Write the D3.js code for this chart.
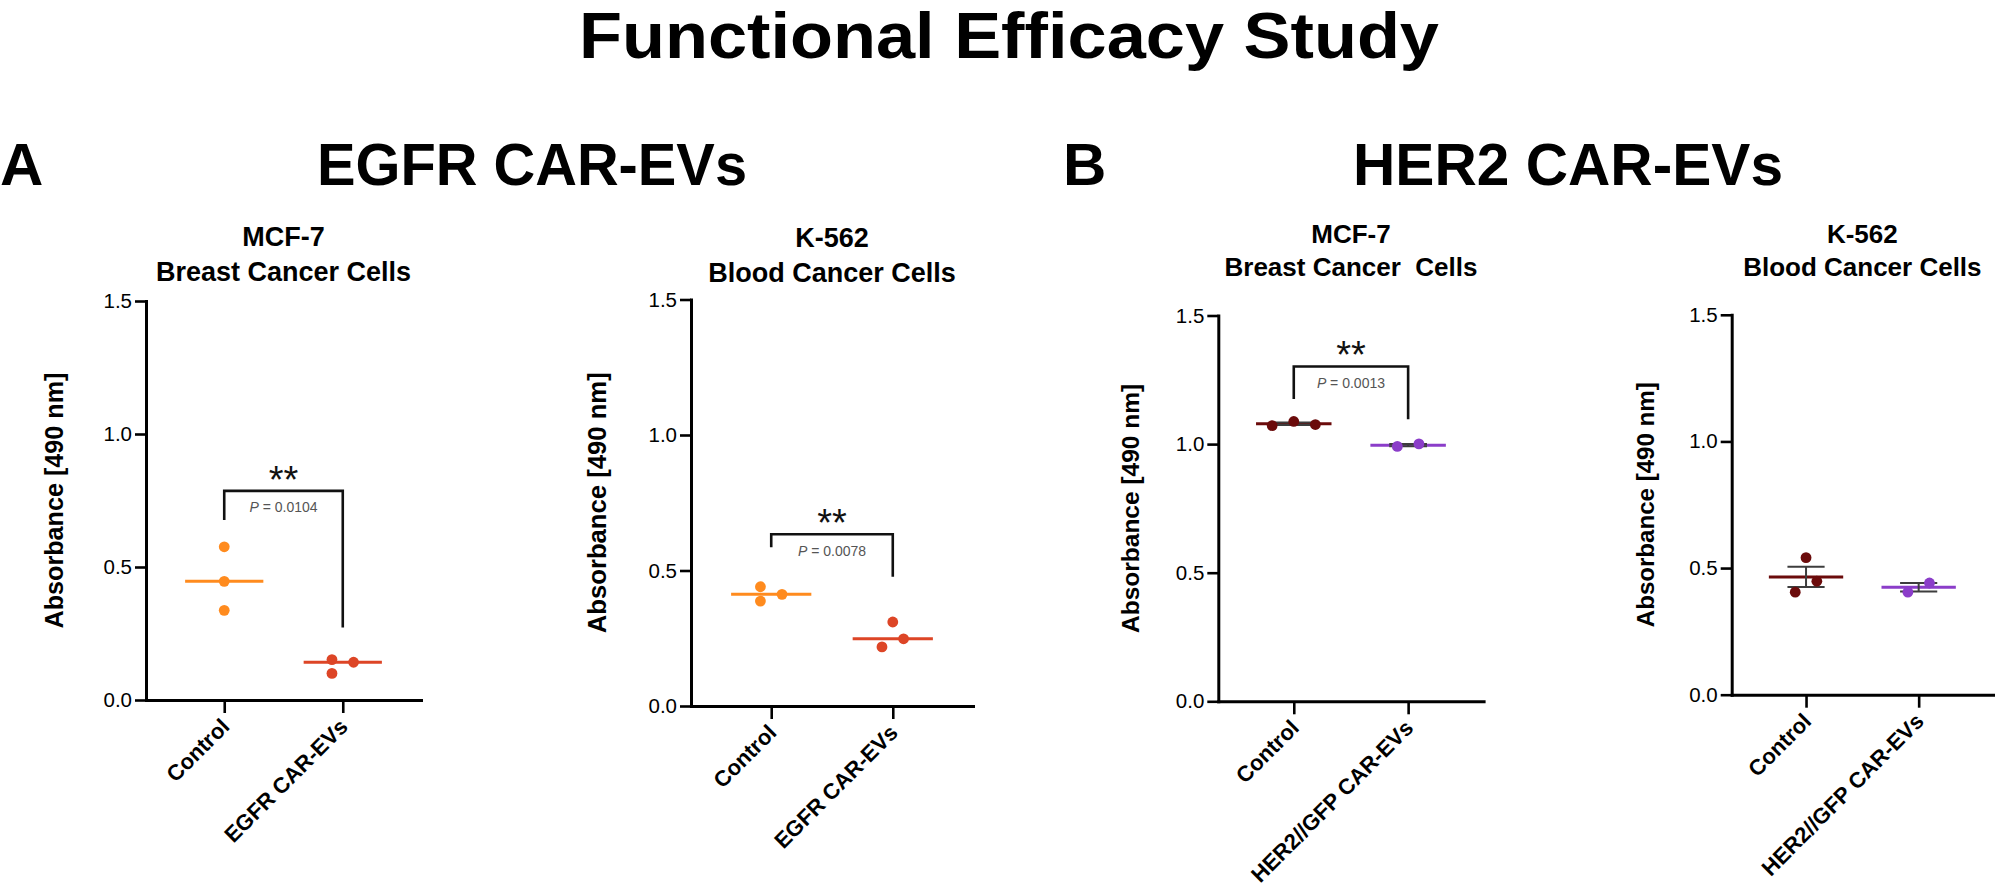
<!DOCTYPE html>
<html>
<head>
<meta charset="utf-8">
<script src="https://cdn.jsdelivr.net/npm/d3@7"></script>
<style>
  body { margin: 0; background: #ffffff; }
  svg { display: block; font-family: "Liberation Sans", Arial, Helvetica, sans-serif; }
</style>
</head>
<body>
<svg id="chart" width="2000" height="896"></svg>
<script>
// ---------------- DATA ----------------
const figureTitle = "Functional Efficacy Study";
const sectionLetters = ["A", "B"];
const sectionTitles = ["EGFR CAR-EVs", "HER2 CAR-EVs"];
const panelTitleLine1 = ["MCF-7", "K-562", "MCF-7", "K-562"];
const panelTitleLine2 = ["Breast Cancer Cells", "Blood Cancer Cells", "Breast Cancer  Cells", "Blood Cancer Cells"];
const egfrCategories = ["Control", "EGFR CAR-EVs"];
const her2Categories = ["Control", "HER2//GFP CAR-EVs"];
const yTickValues = [0.0, 0.5, 1.0, 1.5];
const yAxisLabel = "Absorbance [490 nm]";

// replicate values (absorbance at 490 nm)
const egfrMcf7Control = [0.576, 0.446, 0.337];
const egfrMcf7Treated = [0.152, 0.142, 0.100];
const egfrK562Control = [0.440, 0.387, 0.412];
const egfrK562Treated = [0.310, 0.248, 0.218];
const her2Mcf7Control = [1.072, 1.088, 1.076];
const her2Mcf7Treated = [0.991, 1.001];
const her2K562Control = [0.541, 0.448, 0.405];
const her2K562Treated = [0.405, 0.441];

// group means and SEM as plotted
const groupMeans = [[0.446, 0.142], [0.412, 0.248], [1.079, 0.996], [0.465, 0.424]];
const groupSEM = [null, null, [0.005, 0.004], [0.040, 0.017]];

// scatter-dot column slots
const swarmSlots = [
  [[0, 0, 0], [-1, 1, -1]],
  [[-1, -1, 1], [0, 1, -1]],
  [[-2, 0, 2], [-1, 1]],
  [[0, 1, -1], [-1, 1]]
];

// significance annotations
const significance = ["**", "**", "**", null];
const pValueText = ["0.0104", "0.0078", "0.0013", null];
const bracketLevel = [0.786, 0.634, 1.302, null];
const bracketLegEnds = [[0.677, 0.273], [0.586, 0.477], [1.175, 1.097], null];

// ---------------- STYLE / LAYOUT ----------------
const controlColors = ["#FF8B1E", "#FF8B1E", "#6B0B0B", "#6B0B0B"];
const treatedColors = ["#DD4526", "#DD4526", "#8B3DC9", "#8B3DC9"];

const panelData = [
  { cats: egfrCategories, values: [egfrMcf7Control, egfrMcf7Treated] },
  { cats: egfrCategories, values: [egfrK562Control, egfrK562Treated] },
  { cats: her2Categories, values: [her2Mcf7Control, her2Mcf7Treated] },
  { cats: her2Categories, values: [her2K562Control, her2K562Treated] }
];

const layout = [
  { x0: 146,    x1: 421,    yTop: 301,   yBot: 700,   t1: 245.5, t2: 280.5, tSize: 27, labGap: 83,   labLen: 256, labSize: 25 },
  { x0: 691,    x1: 973,    yTop: 299.5, yBot: 706,   t1: 247,   t2: 281.5, tSize: 27, labGap: 85,   labLen: 261, labSize: 25 },
  { x0: 1218.3, x1: 1483.6, yTop: 315.5, yBot: 701.3, t1: 242.7, t2: 276,   tSize: 26, labGap: 79,   labLen: 249, labSize: 24.5 },
  { x0: 1731.7, x1: 1993,   yTop: 314.8, yBot: 694.7, t1: 242.7, t2: 276,   tSize: 26, labGap: 77.7, labLen: 245, labSize: 24 }
];

const svg = d3.select("#chart");

// ---------------- HEADERS ----------------
svg.append("text")
  .attr("x", 1009).attr("y", 58)
  .attr("text-anchor", "middle")
  .attr("font-size", 64).attr("font-weight", "bold")
  .attr("textLength", 860).attr("lengthAdjust", "spacingAndGlyphs")
  .text(figureTitle);

const letterX = [0, 1063];
const sectionCenterX = [532, 1568];
sectionLetters.forEach((L, i) => {
  svg.append("text")
    .attr("x", letterX[i]).attr("y", 184.5)
    .attr("font-size", 60).attr("font-weight", "bold")
    .text(L);
  svg.append("text")
    .attr("x", sectionCenterX[i]).attr("y", 184.5)
    .attr("text-anchor", "middle")
    .attr("font-size", 60).attr("font-weight", "bold")
    .attr("textLength", 430).attr("lengthAdjust", "spacingAndGlyphs")
    .text(sectionTitles[i]);
});

// ---------------- PANELS ----------------
panelData.forEach((pd, i) => {
  const L = layout[i];
  const g = svg.append("g");

  const x = d3.scalePoint().domain(pd.cats).range([L.x0, L.x1]).padding(0.66);
  const y = d3.scaleLinear().domain([0, 1.5]).range([L.yBot, L.yTop]);
  const step = x.step();
  const cx = (L.x0 + L.x1) / 2;

  // titles
  g.append("text").attr("x", cx).attr("y", L.t1).attr("text-anchor", "middle")
    .attr("font-size", L.tSize).attr("font-weight", "bold").text(panelTitleLine1[i]);
  g.append("text").attr("x", cx).attr("y", L.t2).attr("text-anchor", "middle")
    .attr("font-size", L.tSize).attr("font-weight", "bold")
    .style("white-space", "pre").attr("xml:space", "preserve")
    .text(panelTitleLine2[i]);

  // y axis
  const yAxis = g.append("g").attr("transform", `translate(${L.x0},0)`)
    .call(d3.axisLeft(y).tickValues(yTickValues).tickFormat(d3.format(".1f"))
      .tickSize(11).tickSizeOuter(0).tickPadding(3));
  yAxis.select(".domain").attr("stroke", "#000").attr("stroke-width", 3).attr("stroke-linecap", "square");
  yAxis.selectAll(".tick line").attr("stroke", "#000").attr("stroke-width", 2.6);
  yAxis.selectAll(".tick text").attr("font-size", 20.5).attr("fill", "#000")
    .attr("font-family", "'Liberation Sans', Arial, sans-serif");

  // x axis
  const xAxis = g.append("g").attr("transform", `translate(0,${L.yBot})`)
    .call(d3.axisBottom(x).tickSize(13).tickSizeOuter(0));
  xAxis.select(".domain").attr("stroke", "#000").attr("stroke-width", 3).attr("stroke-linecap", "square");
  xAxis.selectAll(".tick line").attr("stroke", "#000").attr("stroke-width", 2.6);
  xAxis.selectAll(".tick text")
    .attr("x", 6).attr("y", 28).attr("dy", null)
    .attr("text-anchor", "end")
    .attr("transform", "rotate(-45,6,28)")
    .attr("font-size", 22).attr("font-weight", "bold").attr("fill", "#000")
    .attr("font-family", "'Liberation Sans', Arial, sans-serif");

  // y axis label
  const ly = (L.yTop + L.yBot) / 2;
  g.append("text")
    .attr("transform", `translate(${L.x0 - L.labGap},${ly}) rotate(-90)`)
    .attr("text-anchor", "middle")
    .attr("font-size", L.labSize).attr("font-weight", "bold")
    .attr("textLength", L.labLen).attr("lengthAdjust", "spacingAndGlyphs")
    .text(yAxisLabel);

  // mean lines
  const colors = [controlColors[i], treatedColors[i]];
  pd.cats.forEach((c, k) => {
    g.append("line")
      .attr("x1", x(c) - 0.33 * step).attr("x2", x(c) + 0.33 * step)
      .attr("y1", y(groupMeans[i][k])).attr("y2", y(groupMeans[i][k]))
      .attr("stroke", colors[k]).attr("stroke-width", 3);
  });

  // error bars (SEM)
  if (groupSEM[i]) {
    pd.cats.forEach((c, k) => {
      const m = groupMeans[i][k], s = groupSEM[i][k];
      const eb = g.append("g").attr("stroke", "#3d3d3d").attr("stroke-width", 2);
      eb.append("line").attr("x1", x(c)).attr("x2", x(c)).attr("y1", y(m - s)).attr("y2", y(m + s));
      [m - s, m + s].forEach(v => {
        eb.append("line").attr("x1", x(c) - 0.165 * step).attr("x2", x(c) + 0.165 * step)
          .attr("y1", y(v)).attr("y2", y(v));
      });
    });
  }

  // points
  const r = 5.4;
  pd.cats.forEach((c, k) => {
    g.selectAll(null).data(pd.values[k]).enter().append("circle")
      .attr("cx", (d, j) => x(c) + swarmSlots[i][k][j] * 2 * r)
      .attr("cy", d => y(d))
      .attr("r", r)
      .attr("fill", colors[k]);
  });

  // significance bracket
  if (significance[i]) {
    const xa = x(pd.cats[0]), xb = x(pd.cats[1]);
    const by = y(bracketLevel[i]);
    g.append("path")
      .attr("d", `M${xa},${y(bracketLegEnds[i][0])}V${by}H${xb}V${y(bracketLegEnds[i][1])}`)
      .attr("fill", "none").attr("stroke", "#111").attr("stroke-width", 2.6);
    g.append("text")
      .attr("x", (xa + xb) / 2).attr("y", by + 2)
      .attr("text-anchor", "middle")
      .attr("font-size", 38).attr("fill", "#111")
      .text(significance[i]);
    const pt = g.append("text")
      .attr("x", (xa + xb) / 2).attr("y", by + 21.5)
      .attr("text-anchor", "middle")
      .attr("font-size", 14).attr("fill", "#555");
    pt.append("tspan").attr("font-style", "italic").text("P");
    pt.append("tspan").text(" = " + pValueText[i]);
  }
});
</script>
</body>
</html>
